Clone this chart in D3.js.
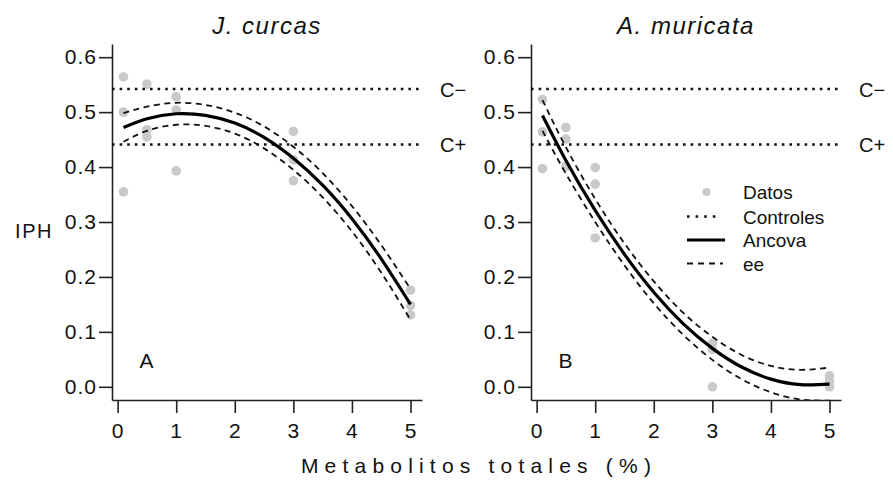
<!DOCTYPE html>
<html>
<head>
<meta charset="utf-8">
<script src="https://cdn.jsdelivr.net/npm/d3@7"></script>
<style>
  html, body { margin: 0; padding: 0; background: #fff; }
  svg { display: block; font-family: "Liberation Sans", Arial, Helvetica, sans-serif; }
</style>
</head>
<body>
<svg id="chart" width="893" height="481"></svg>
<script>
// ---------- data ----------
const titles = ["J. curcas", "A. muricata"];
const panelLabels = ["A", "B"];
const xTicks = [0, 1, 2, 3, 4, 5];
const yTicks = [0, 0.1, 0.2, 0.3, 0.4, 0.5, 0.6];
const controlValues = [0.542, 0.441];
const controlLabels = ["C\u2212", "C+"];
const legendLabels = ["Datos", "Controles", "Ancova", "ee"];
const xLabel = "Metabolitos totales (%)";
const yLabel = "IPH";

// observed points
const jcX = [0.1, 0.1, 0.1, 0.5, 0.5, 0.5, 1, 1, 1, 3, 3, 3, 5, 5, 5];
const jcY = [0.564, 0.500, 0.355, 0.551, 0.468, 0.455, 0.528, 0.504, 0.393, 0.465, 0.413, 0.375, 0.176, 0.148, 0.131];
const amX = [0.1, 0.1, 0.1, 0.5, 0.5, 0.5, 1, 1, 1, 3, 3, 3, 5, 5, 5];
const amY = [0.523, 0.464, 0.397, 0.472, 0.451, 0.401, 0.399, 0.369, 0.271, 0.079, 0.068, 0.000, 0.020, 0.011, 0.000];

// fitted curve (Ancova) and standard-error band, read at these x values
const fitX    = [0.1, 0.5, 1, 1.5, 2, 2.5, 3, 3.5, 4, 4.5, 5];
const jcFit   = [0.472, 0.488, 0.497, 0.494, 0.480, 0.454, 0.416, 0.367, 0.306, 0.233, 0.150];
const jcUpper = [0.498, 0.510, 0.517, 0.513, 0.499, 0.474, 0.437, 0.389, 0.329, 0.258, 0.178];
const jcLower = [0.446, 0.466, 0.477, 0.475, 0.461, 0.434, 0.395, 0.345, 0.283, 0.208, 0.122];
const amFit   = [0.494, 0.412, 0.321, 0.241, 0.172, 0.115, 0.070, 0.036, 0.014, 0.004, 0.005];
const amUpper = [0.522, 0.436, 0.342, 0.261, 0.192, 0.135, 0.091, 0.058, 0.038, 0.031, 0.035];
const amLower = [0.466, 0.388, 0.300, 0.221, 0.152, 0.095, 0.049, 0.014, -0.010, -0.023, -0.025];

// ---------- drawing ----------
const svg = d3.select("#chart");
const xExt = [-0.096, 5.196];
const yExt = [-0.024, 0.624];
const plotTop = 44, plotBottom = 400;
const panels = [
  { left: 112, right: 422, x: jcX, y: jcY, fit: jcFit, up: jcUpper, lo: jcLower, legend: false },
  { left: 531, right: 841, x: amX, y: amY, fit: amFit, up: amUpper, lo: amLower, legend: true }
];
const yScale = d3.scaleLinear().domain(yExt).range([plotBottom, plotTop]);
const grey = "#c9c9c9";
const fontAxis = 21;

panels.forEach((p, i) => {
  const x = d3.scaleLinear().domain(xExt).range([p.left, p.right]);
  const y = yScale;
  const g = svg.append("g");

  const clipId = "clip" + i;
  svg.append("clipPath").attr("id", clipId)
    .append("rect").attr("x", p.left).attr("y", plotTop)
    .attr("width", p.right - p.left).attr("height", plotBottom - plotTop);

  // axes
  const ya = g.append("g").attr("transform", `translate(${p.left},0)`)
    .call(d3.axisLeft(y).tickValues(yTicks).tickFormat(d3.format(".1f")).tickSize(13).tickSizeOuter(0).tickPadding(3));
  const xa = g.append("g").attr("transform", `translate(0,${plotBottom})`)
    .call(d3.axisBottom(x).tickValues(xTicks).tickFormat(d3.format("d")).tickSize(13).tickSizeOuter(0).tickPadding(10));
  [ya, xa].forEach(a => {
    a.selectAll("path, line").attr("stroke", "#222").attr("stroke-width", 1.6);
    a.selectAll("text").attr("fill", "#111").style("font-size", fontAxis + "px")
      .style("letter-spacing", "1px").style("font-family", "'Liberation Sans', Arial, sans-serif");
  });
  ya.selectAll("text").attr("dx", "1px");

  const plot = g.append("g").attr("clip-path", `url(#${clipId})`);

  // points
  plot.selectAll("circle.pt").data(p.x.map((d, k) => [d, p.y[k]])).join("circle")
    .attr("class", "pt").attr("cx", d => x(d[0])).attr("cy", d => y(d[1]))
    .attr("r", 4.8).attr("fill", grey);

  // controls
  controlValues.forEach((c, k) => {
    plot.append("line").attr("x1", p.left).attr("x2", p.right)
      .attr("y1", y(c)).attr("y2", y(c))
      .attr("stroke", "#111").attr("stroke-width", 2.6).attr("stroke-dasharray", "2.6,5");
    g.append("text").attr("x", p.right + 18).attr("y", y(c) + 7.5)
      .style("font-size", "20px").attr("fill", "#111").text(controlLabels[k]);
  });

  const line = d3.line().x(d => x(d[0])).y(d => y(d[1])).curve(d3.curveNatural);
  const mk = arr => fitX.map((d, k) => [d, arr[k]]);
  [p.up, p.lo].forEach(arr => {
    plot.append("path").attr("d", line(mk(arr))).attr("fill", "none")
      .attr("stroke", "#111").attr("stroke-width", 1.8).attr("stroke-dasharray", "6,4.5");
  });
  plot.append("path").attr("d", line(mk(p.fit))).attr("fill", "none")
    .attr("stroke", "#000").attr("stroke-width", 3.2);

  // titles
  g.append("text").attr("x", (p.left + p.right) / 2).attr("y", 34)
    .attr("text-anchor", "middle").style("font-size", "24px").style("font-style", "italic")
    .style("letter-spacing", "1.5px").attr("fill", "#111").text(titles[i]);
  g.append("text").attr("x", x(0) + 22).attr("y", 368).attr("text-anchor", "start")
    .style("font-size", "21px").attr("fill", "#111").text(panelLabels[i]);

  if (p.legend) {
    const lx1 = 687, lx2 = 725, tx = 743;
    const ly = [192, 216.5, 240, 263.5];
    g.append("circle").attr("cx", 706.5).attr("cy", ly[0]).attr("r", 4).attr("fill", grey);
    g.append("line").attr("x1", lx1).attr("x2", lx2 - 6).attr("y1", ly[1]).attr("y2", ly[1])
      .attr("stroke", "#111").attr("stroke-width", 2.4).attr("stroke-dasharray", "2.6,6");
    g.append("line").attr("x1", lx1).attr("x2", lx2).attr("y1", ly[2]).attr("y2", ly[2])
      .attr("stroke", "#000").attr("stroke-width", 3.2);
    g.append("line").attr("x1", lx1).attr("x2", lx2 - 2).attr("y1", ly[3]).attr("y2", ly[3])
      .attr("stroke", "#111").attr("stroke-width", 1.8).attr("stroke-dasharray", "6,5");
    legendLabels.forEach((t, k) => {
      g.append("text").attr("x", tx).attr("y", ly[k] + 7).style("font-size", "19px")
        .attr("fill", "#111").text(t);
    });
  }
});

// shared labels
svg.append("text").attr("x", 34).attr("y", 238).attr("text-anchor", "middle")
  .style("font-size", "20px").style("letter-spacing", "1.5px").attr("fill", "#111").text(yLabel);
svg.append("text").attr("x", 479).attr("y", 473).attr("text-anchor", "middle")
  .style("font-size", "21px").style("letter-spacing", "6.2px").attr("fill", "#111").text(xLabel);
</script>
</body>
</html>
